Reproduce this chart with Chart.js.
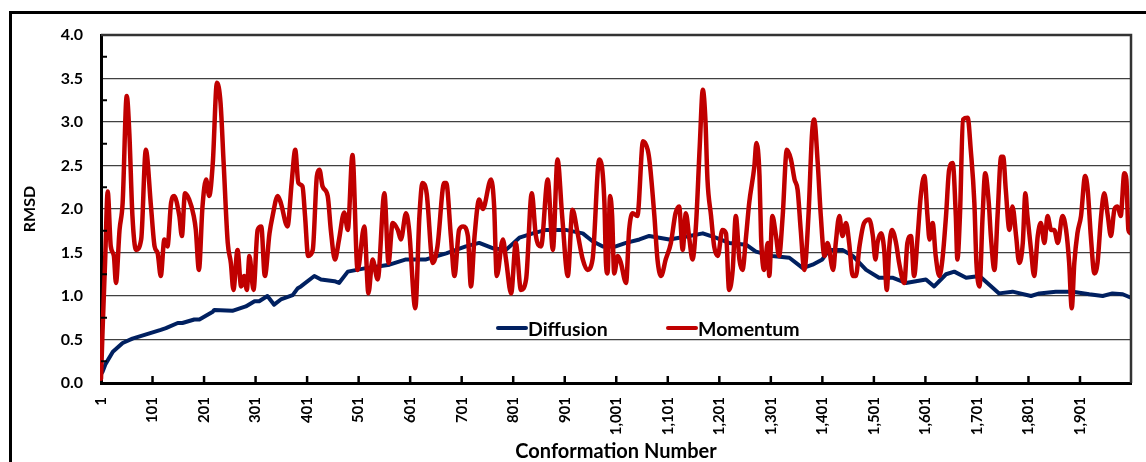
<!DOCTYPE html>
<html>
<head>
<meta charset="utf-8">
<script src="https://cdn.jsdelivr.net/npm/chart.js@4.4.1/dist/chart.umd.min.js"></script>
<style>
  html, body { margin: 0; padding: 0; background: #fff; overflow: hidden; }
  #wrap { width: 1146px; height: 462px; }
</style>
</head>
<body>
<div id="wrap"><canvas id="grafico" width="1146" height="462"></canvas></div>
<script>
// Momentum (vermelho)
const momentumX = [1, 4, 9, 14, 20, 26, 30, 37, 43, 51, 56, 62, 69, 79, 88, 98, 105, 111, 117, 124,
  130, 137, 143, 153, 158, 164, 172, 181, 185, 191, 198, 205, 211, 218, 226, 233, 239, 247, 253, 258,
  266, 273, 279, 284, 289, 297, 305, 312, 319, 328, 334, 344, 350, 363, 371, 378, 384, 392, 397, 403,
  412, 420, 425, 431, 441, 447, 455, 463, 473, 480, 489, 499, 512, 520, 528, 538, 551, 559, 567, 577,
  583, 593, 599, 611, 619, 625, 633, 645, 654, 667, 671, 680, 687, 696, 704, 713, 719, 726, 735, 742,
  758, 764, 769, 781, 787, 797, 806, 816, 826, 837, 845, 855, 868, 878, 887, 896, 907, 916, 926, 936,
  945, 955, 968, 978, 981, 984, 989, 993, 997, 1004, 1010, 1020, 1026, 1033, 1042, 1053, 1062, 1066, 1075, 1081,
  1088, 1097, 1107, 1116, 1123, 1130, 1136, 1143, 1149, 1156, 1163, 1169, 1174, 1178, 1185, 1191, 1198, 1207, 1214, 1220,
  1227, 1233, 1240, 1246, 1253, 1259, 1269, 1273, 1279, 1282, 1288, 1295, 1298, 1304, 1311, 1317, 1324, 1332, 1340, 1347,
  1353, 1359, 1366, 1374, 1381, 1385, 1392, 1398, 1405, 1411, 1422, 1427, 1434, 1440, 1447, 1453, 1460, 1466, 1473, 1482,
  1492, 1499, 1504, 1508, 1515, 1521, 1526, 1531, 1536, 1544, 1550, 1560, 1566, 1573, 1579, 1586, 1592, 1599, 1605, 1609,
  1615, 1621, 1628, 1634, 1641, 1647, 1654, 1660, 1663, 1668, 1674, 1683, 1689, 1696, 1700, 1706, 1712, 1717, 1724, 1728,
  1735, 1741, 1748, 1752, 1757, 1764, 1770, 1777, 1783, 1790, 1795, 1799, 1806, 1812, 1819, 1825, 1832, 1838, 1845, 1851,
  1858, 1867, 1874, 1880, 1885, 1890, 1896, 1903, 1911, 1916, 1922, 1929, 1935, 1942, 1948, 1955, 1961, 1968, 1974, 1980,
  1987, 1991, 1995, 2000];
const momentumY = [0.05, 0.6, 1.4, 2.2, 1.57, 1.46, 1.15, 1.76, 2.07, 3.30, 2.87, 1.92, 1.53, 1.65, 2.68, 2.03, 1.57, 1.49, 1.23, 1.65,
  1.57, 2.07, 2.15, 1.92, 1.69, 2.18, 2.11, 1.92, 1.76, 1.30, 2.03, 2.34, 2.15, 2.53, 3.45, 3.22, 2.53, 1.61, 1.38, 1.07,
  1.53, 1.11, 1.23, 1.07, 1.46, 1.07, 1.76, 1.80, 1.23, 1.72, 1.92, 2.15, 2.07, 1.80, 2.30, 2.68, 2.30, 2.26, 1.92, 1.46,
  1.53, 2.38, 2.45, 2.26, 2.15, 1.76, 1.42, 1.65, 1.96, 1.76, 2.62, 1.30, 1.80, 1.03, 1.42, 1.19, 2.18, 1.38, 1.84, 1.76,
  1.65, 1.95, 1.76, 0.86, 1.92, 2.30, 2.18, 1.38, 1.57, 2.30, 2.30, 1.69, 1.23, 1.76, 1.80, 1.69, 1.11, 1.69, 2.11, 2.00,
  2.34, 2.03, 1.23, 1.65, 1.42, 1.03, 1.61, 1.07, 1.19, 2.18, 1.69, 1.57, 2.34, 1.53, 2.57, 1.92, 1.23, 1.99, 1.72, 1.42,
  1.30, 1.42, 2.57, 2.07, 1.38, 1.26, 2.15, 1.92, 1.26, 1.46, 1.38, 1.15, 1.76, 1.95, 1.92, 2.78, 2.68, 2.53, 1.92, 1.42,
  1.23, 1.42, 1.61, 1.95, 2.03, 1.53, 1.95, 1.65, 1.42, 1.84, 2.72, 3.37, 3.03, 2.34, 1.92, 1.57, 1.46, 1.76, 1.72, 1.07,
  1.30, 1.92, 1.42, 1.30, 1.69, 2.07, 2.49, 2.76, 2.38, 1.69, 1.30, 1.61, 1.23, 1.92, 1.69, 1.46, 1.92, 2.68, 2.57, 2.34,
  2.22, 1.76, 1.30, 1.92, 2.87, 3.03, 2.53, 1.92, 1.46, 1.61, 1.30, 1.61, 1.92, 1.69, 1.84, 1.61, 1.23, 1.23, 1.57, 1.84,
  1.88, 1.69, 1.42, 1.61, 1.72, 1.53, 1.07, 1.57, 1.76, 1.61, 1.38, 1.15, 1.61, 1.69, 1.23, 1.69, 2.15, 2.38, 1.92, 1.65,
  1.84, 1.46, 1.23, 1.42, 1.92, 2.45, 2.53, 1.92, 1.42, 1.92, 3.03, 3.05, 2.68, 2.07, 1.38, 1.11, 1.92, 2.41, 2.07, 1.69,
  1.30, 1.92, 2.60, 2.60, 2.22, 1.76, 2.03, 1.69, 1.38, 1.61, 2.18, 1.92, 1.53, 1.23, 1.69, 1.84, 1.61, 1.92, 1.76, 1.76,
  1.61, 1.92, 1.76, 1.38, 0.86, 1.38, 1.72, 1.92, 2.38, 2.22, 1.69, 1.26, 1.38, 1.92, 2.18, 1.92, 1.69, 2.00, 2.03, 1.92,
  2.41, 2.34, 1.76, 1.72];

// Diffusion (azul)
const diffusionX = [1, 4, 10, 24, 43, 62, 95, 117, 127, 150, 159, 182, 192, 218, 221, 256, 282, 299, 308, 324,
  337, 350, 373, 383, 389, 415, 428, 454, 463, 480, 515, 561, 593, 632, 671, 709, 735, 761, 787, 813,
  839, 865, 903, 936, 955, 975, 1000, 1020, 1046, 1065, 1104, 1143, 1169, 1194, 1220, 1253, 1272, 1304, 1337, 1363,
  1382, 1401, 1414, 1440, 1460, 1486, 1511, 1537, 1563, 1602, 1618, 1641, 1657, 1680, 1706, 1725, 1744, 1770, 1806, 1822,
  1854, 1887, 1919, 1945, 1964, 1984, 2000];
const diffusionY = [0.10, 0.13, 0.22, 0.36, 0.46, 0.51, 0.57, 0.61, 0.63, 0.69, 0.69, 0.73, 0.73, 0.82, 0.84, 0.83, 0.88, 0.94, 0.94, 1.00,
  0.90, 0.96, 1.01, 1.09, 1.11, 1.23, 1.19, 1.17, 1.15, 1.28, 1.32, 1.36, 1.42, 1.42, 1.49, 1.57, 1.61, 1.55, 1.53, 1.67,
  1.72, 1.76, 1.76, 1.72, 1.63, 1.57, 1.57, 1.61, 1.65, 1.69, 1.65, 1.69, 1.72, 1.67, 1.61, 1.59, 1.51, 1.46, 1.44, 1.32,
  1.36, 1.42, 1.53, 1.53, 1.46, 1.30, 1.21, 1.21, 1.15, 1.19, 1.11, 1.25, 1.28, 1.21, 1.23, 1.13, 1.03, 1.05, 1.00, 1.03,
  1.05, 1.05, 1.02, 1.00, 1.03, 1.02, 0.98];

const xTicks = [1, 101, 201, 301, 401, 501, 601, 701, 801, 901, 1001, 1101, 1201, 1301, 1401, 1501, 1601, 1701, 1801, 1901];
const yTicks = [0, 0.5, 1, 1.5, 2, 2.5, 3, 3.5, 4];
const seriesNames = ['Diffusion', 'Momentum'];
const seriesColors = ['#002060', '#c00000'];

const FONTE = 'Lato';

function pontos(xs, ys) {
  return xs.map((x, i) => ({ x: x, y: ys[i] }));
}

// moldura externa, marcas internas dos eixos e legenda dentro da área
const extras = {
  id: 'extras',
  beforeDraw(chart) {
    const ctx = chart.ctx;
    ctx.save();
    ctx.strokeStyle = '#000';
    ctx.lineWidth = 3;
    ctx.strokeRect(10.5, 12.5, 1400, 700);
    ctx.restore();
  },
  afterDatasetsDraw(chart) {
    const { ctx, chartArea: a, scales: { x, y } } = chart;
    ctx.save();
    // borda de cima e da direita
    ctx.strokeStyle = '#333';
    ctx.lineWidth = 2.5;
    ctx.beginPath();
    ctx.moveTo(a.left, a.top);
    ctx.lineTo(a.right, a.top);
    ctx.lineTo(a.right, a.bottom);
    ctx.stroke();

    // marcas menores no eixo y (entre os ticks)
    ctx.strokeStyle = '#000';
    ctx.lineWidth = 2;
    for (let i = 0; i < yTicks.length - 1; i++) {
      const py = y.getPixelForValue((yTicks[i] + yTicks[i + 1]) / 2);
      ctx.beginPath();
      ctx.moveTo(a.left, py);
      ctx.lineTo(a.left + 6, py);
      ctx.stroke();
    }
    // marcas no eixo x, para dentro
    ctx.lineWidth = 2.5;
    xTicks.slice(1).forEach(t => {
      const px = x.getPixelForValue(t);
      ctx.beginPath();
      ctx.moveTo(px, a.bottom);
      ctx.lineTo(px, a.bottom - 7);
      ctx.stroke();
    });

    // legenda
    const lx = [a.left + 397, a.left + 567];
    const ly = a.top + 293;
    ctx.font = 'bold 19.5px ' + FONTE;
    ctx.textBaseline = 'middle';
    ctx.textAlign = 'left';
    seriesNames.forEach((nome, i) => {
      ctx.strokeStyle = seriesColors[i];
      ctx.lineWidth = 4;
      ctx.lineCap = 'round';
      ctx.beginPath();
      ctx.moveTo(lx[i], ly);
      ctx.lineTo(lx[i] + 28, ly);
      ctx.stroke();
      ctx.fillStyle = '#000';
      ctx.fillText(nome, lx[i] + 30, ly + 2);
    });
    ctx.restore();
  }
};

const ctx = document.getElementById('grafico').getContext('2d');
const grafico = new Chart(ctx, {
  type: 'line',
  data: {
    datasets: [
      {
        label: seriesNames[1],
        data: pontos(momentumX, momentumY),
        borderColor: seriesColors[1],
        borderWidth: 4.5,
        pointRadius: 0,
        cubicInterpolationMode: 'monotone',
        borderJoinStyle: 'round',
        borderCapStyle: 'round',
        order: 0,
        clip: 1
      },
      {
        label: seriesNames[0],
        data: pontos(diffusionX, diffusionY),
        borderColor: seriesColors[0],
        borderWidth: 4,
        pointRadius: 0,
        tension: 0,
        borderJoinStyle: 'round',
        borderCapStyle: 'round',
        order: 1,
        clip: 1
      }
    ]
  },
  options: {
    responsive: false,
    animation: false,
    layout: { padding: { top: 35, right: 15, left: 0, bottom: 0 } },
    plugins: { legend: { display: false }, tooltip: { enabled: false } },
    scales: {
      x: {
        type: 'linear',
        min: 1,
        max: 2000,
        afterBuildTicks: s => { s.ticks = xTicks.map(v => ({ value: v })); },
        afterFit: s => { s.height = 79; },
        ticks: {
          autoSkip: false,
          minRotation: 90,
          maxRotation: 90,
          padding: 14,
          color: '#000',
          font: { family: FONTE, size: 15, weight: 'bold' },
          callback: v => v.toLocaleString('en-US')
        },
        grid: { display: false, drawTicks: false },
        border: { color: '#000', width: 3 },
        title: {
          display: true,
          text: 'Conformation Number',
          color: '#000',
          font: { family: FONTE, size: 20, weight: 'bold', lineHeight: 1 },
          padding: 0
        }
      },
      y: {
        min: 0,
        max: 4,
        afterBuildTicks: s => { s.ticks = yTicks.map(v => ({ value: v })); },
        afterFit: s => { s.width = 101; },
        ticks: {
          padding: 18,
          color: '#000',
          font: { family: FONTE, size: 16, weight: 'bold' },
          callback: v => v.toFixed(1)
        },
        grid: { color: '#404040', lineWidth: 1.3, drawTicks: false },
        border: { color: '#000', width: 3 },
        title: {
          display: true,
          text: 'RMSD',
          color: '#000',
          font: { family: FONTE, size: 16, weight: 'bold', lineHeight: 1.2 },
          padding: { top: 20, bottom: 0 }
        }
      }
    }
  },
  plugins: [extras]
});
</script>
</body>
</html>
